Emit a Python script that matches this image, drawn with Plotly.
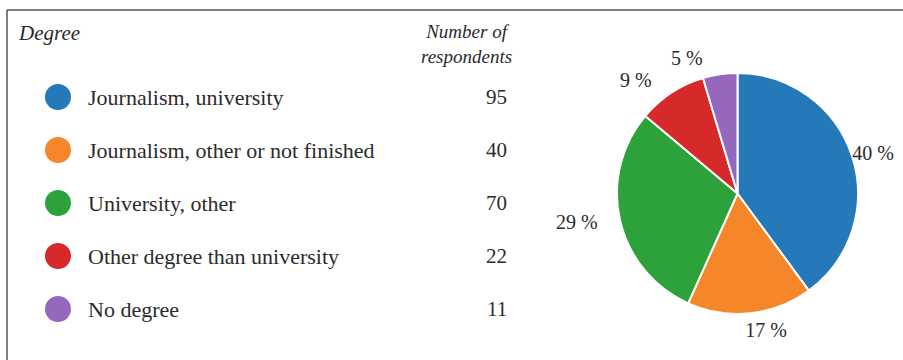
import plotly.graph_objects as go

# Survey data: highest degree of respondents
categories = [
    "Journalism, university",
    "Journalism, other or not finished",
    "University, other",
    "Other degree than university",
    "No degree",
]
respondents = [95, 40, 70, 22, 11]
colors = ["#2679b8", "#f5872a", "#2ea23a", "#d62a2a", "#9568be"]

header_degree = "Degree"
header_count = "Number of<br>respondents"

total = sum(respondents)
pct_text = [f"{round(v / total * 100)} %" for v in respondents]

FONT = "Liberation Serif"
TEXT_COLOR = "#2b2b2b"
W, H = 903, 360
rows = list(range(len(categories)))

# Pie geometry (pixels)
PIE_L, PIE_R, PIE_T, PIE_B = 617, 858, 73, 314
LABEL_PAD = 6       # labels sit a little off the rim
LABEL_SHIFT = -11   # keeps the right-hand label inside the page

fig = go.Figure()

# Legend-style table: coloured dots per row
fig.add_trace(go.Scatter(
    x=[58] * len(categories), y=rows, mode="markers",
    marker=dict(size=26, color=colors, line=dict(width=0)),
    hoverinfo="skip", showlegend=False, xaxis="x", yaxis="y",
))

# Pie of shares
fig.add_trace(go.Pie(
    labels=categories, values=respondents, textinfo="none", sort=False,
    direction="clockwise", rotation=0,
    marker=dict(colors=colors, line=dict(color="white", width=2)),
    domain=dict(x=[PIE_L / W, PIE_R / W], y=[1 - PIE_B / H, 1 - PIE_T / H]),
    showlegend=False, hoverinfo="label+value+percent",
))

# Percentage labels on a transparent, slightly larger copy of the pie
fig.add_trace(go.Pie(
    labels=categories, values=respondents, text=pct_text, textinfo="text",
    textposition="outside", sort=False, direction="clockwise", rotation=0,
    marker=dict(colors=["rgba(0,0,0,0)"] * len(categories), line=dict(width=0)),
    textfont=dict(family=FONT, size=20, color=TEXT_COLOR),
    domain=dict(x=[(PIE_L - LABEL_PAD + LABEL_SHIFT) / W, (PIE_R + LABEL_PAD + LABEL_SHIFT) / W],
                y=[1 - (PIE_B + LABEL_PAD) / H, 1 - (PIE_T - LABEL_PAD) / H]),
    showlegend=False, hoverinfo="skip",
))

annotations = []
for r, (cat, n) in enumerate(zip(categories, respondents)):
    annotations.append(dict(x=86, y=r, xref="x", yref="y", text=cat, showarrow=False,
                            xanchor="left", yanchor="middle",
                            font=dict(family=FONT, size=22, color=TEXT_COLOR)))
    annotations.append(dict(x=509, y=r, xref="x", yref="y", text=str(n), showarrow=False,
                            xanchor="right", yanchor="middle",
                            font=dict(family=FONT, size=21, color=TEXT_COLOR)))

ROW_PX = 53
annotations.append(dict(x=16, y=(33 - 97) / ROW_PX, xref="x", yref="y",
                        text=f"<i>{header_degree}</i>", showarrow=False,
                        xanchor="left", yanchor="middle",
                        font=dict(family=FONT, size=21, color=TEXT_COLOR)))
annotations.append(dict(x=466, y=(44 - 97) / ROW_PX, xref="x", yref="y",
                        text=f"<i>{header_count}</i>", showarrow=False,
                        xanchor="center", yanchor="middle", align="center",
                        font=dict(family=FONT, size=19, color=TEXT_COLOR)))

# Frame lines along the top and left edge
shapes = [
    dict(type="line", xref="paper", yref="paper", x0=7 / W, x1=1, y0=1 - 10 / H, y1=1 - 10 / H,
         line=dict(color="#555555", width=1.5)),
    dict(type="line", xref="paper", yref="paper", x0=7 / W, x1=7 / W, y0=0, y1=1 - 10 / H,
         line=dict(color="#555555", width=1.5)),
]

fig.update_layout(
    width=W, height=H, autosize=False,
    margin=dict(l=0, r=0, t=0, b=0),
    paper_bgcolor="white", plot_bgcolor="white",
    xaxis=dict(range=[0, W], domain=[0, 1], visible=False, fixedrange=True),
    yaxis=dict(range=[(H - 97) / ROW_PX, -97 / ROW_PX], domain=[0, 1], visible=False, fixedrange=True),
    annotations=annotations, shapes=shapes,
    font=dict(family=FONT, color=TEXT_COLOR),
)

# Labels that plotly nudges apart get a leader line; keep them plain text
tidy = "document.querySelectorAll('path.textline').forEach(function(e){e.remove();});"
fig.write_html(
    "out.html",
    config={"staticPlot": True, "responsive": False},
    post_script=tidy,
)
